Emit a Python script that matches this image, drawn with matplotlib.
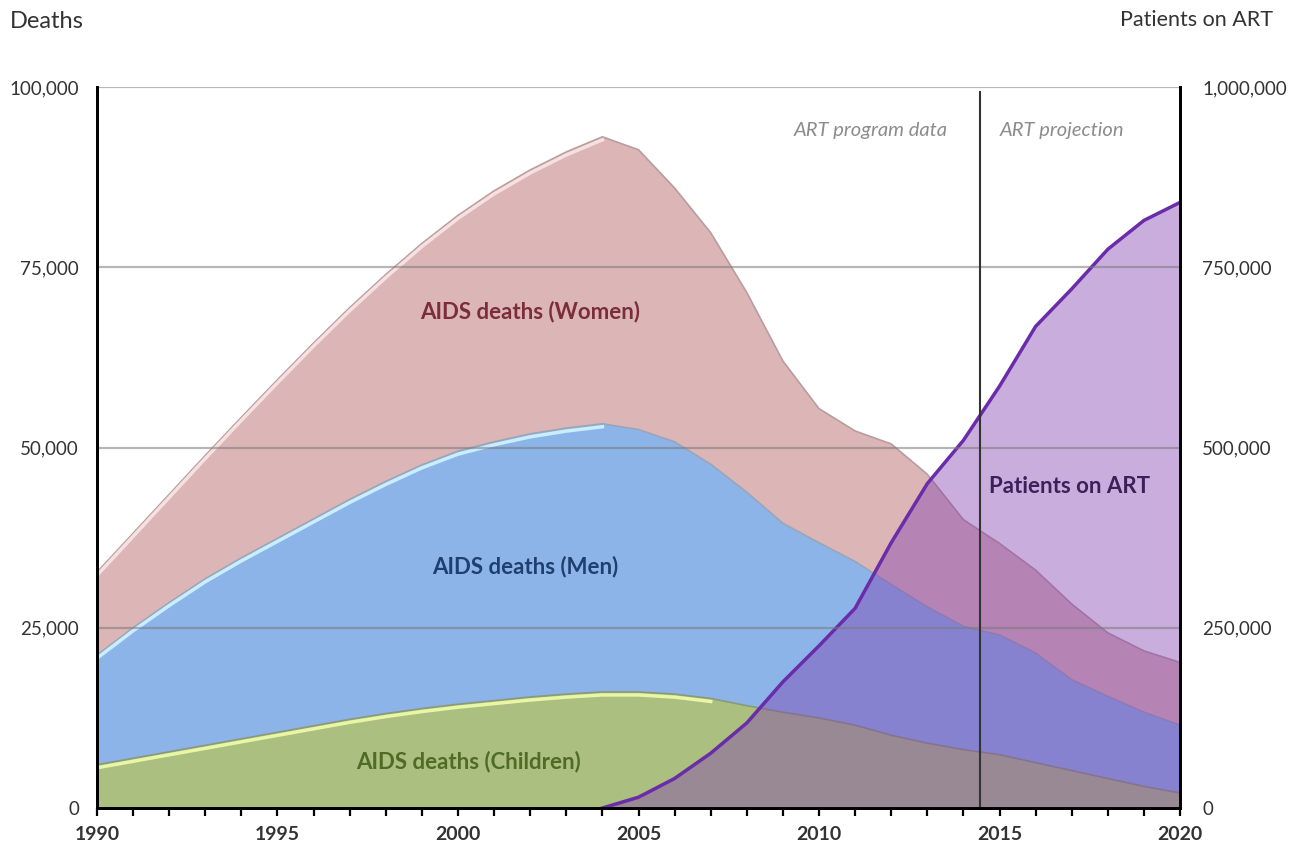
import numpy as np
import matplotlib.pyplot as plt
import matplotlib.transforms as mtransforms
from matplotlib.ticker import FuncFormatter, MultipleLocator

plt.rcParams['font.family'] = ['Lato', 'DejaVu Sans']

years = np.arange(1990, 2021)

# stacked totals (deaths)
children_top = [6000, 6900, 7800, 8700, 9600, 10500, 11400, 12300, 13100, 13800,
                14400, 14900, 15400, 15800, 16100, 16100, 15800, 15200, 14200, 13300,
                12500, 11500, 10100, 9000, 8100, 7400, 6300, 5200, 4100, 3000, 2100]
men_top = [21200, 25000, 28500, 31800, 34700, 37400, 40100, 42800, 45300, 47600,
           49500, 50800, 51900, 52700, 53300, 52500, 50800, 47700, 43800, 39500,
           36800, 34200, 31000, 27900, 25200, 24000, 21500, 17800, 15500, 13300, 11500]
women_top = [32700, 38100, 43500, 48900, 54200, 59400, 64500, 69400, 74000, 78300,
             82200, 85600, 88500, 91000, 93100, 91300, 86000, 79800, 71500, 62000,
             55400, 52300, 50500, 46300, 40000, 36700, 33000, 28300, 24300, 21800, 20200]

# patients on ART (right axis)
art = [0, 0, 0, 0, 0, 0, 0, 0, 0, 0,
       0, 0, 0, 0, 0, 15000, 41000, 76000, 118000, 175000,
       225000, 277000, 368000, 450000, 510000, 585000, 668000, 720000, 775000, 815000, 840000]

children = np.array(children_top)
men = np.array(men_top) - children
women = np.array(women_top) - np.array(men_top)

fig = plt.figure(figsize=(13.02, 8.47), dpi=100)
ax = fig.add_axes([0.0745, 0.046, 0.8318, 0.8512])
ax2 = ax.twinx()

c_women = '#dcb5b7'
c_men = '#8cb4e8'
c_child = '#abbf80'

ax.stackplot(years, children, men, women, colors=[c_child, c_men, c_women], lw=0)
ax.plot(years, children_top, color='#8a9a78', lw=1.2)
ax.plot(years, men_top, color='#9aa6b8', lw=1.2)
ax.plot(years, women_top, color='#b89c9e', lw=1.2)

# light bevel lines just under the rising edges
shift = mtransforms.offset_copy(ax.transData, fig=fig, x=0, y=-3, units='dots')
ax.plot(years[:15], women_top[:15], color='#f7e0e0', lw=2.5, transform=shift)
ax.plot(years[:15], men_top[:15], color='#c8eeff', lw=2.5, transform=shift)
ax.plot(years[:18], children_top[:18], color='#e8f6a6', lw=2.5, transform=shift)

ax.set_xlim(1990, 2020)
ax.set_ylim(0, 100000)
ax2.set_ylim(0, 1000000)

ax2.fill_between(years, 0, art, color='#7f3fb0', alpha=0.42, lw=0)
ax2.plot(years[14:], art[14:], color='#6a2ca8', lw=2.5)

for v in [250000, 500000, 750000, 1000000]:
    ax2.axhline(v, color='#7a7a7a', lw=1.6, alpha=0.55)
ax2.axvline(2014.45, color='#333333', lw=1.5, ymax=0.993)

ax2.text(2013.55, 940000, 'ART program data', ha='right', va='center',
         style='italic', fontsize=14.5, color='#8c8c8c')
ax2.text(2015.0, 940000, 'ART projection', ha='left', va='center',
         style='italic', fontsize=14.5, color='#8c8c8c')

ax2.text(2002.0, 689000, 'AIDS deaths (Women)', ha='center', va='center',
         fontsize=16, fontweight='bold', color='#7b2e3a')
ax2.text(2001.85, 335600, 'AIDS deaths (Men)', ha='center', va='center',
         fontsize=16, fontweight='bold', color='#1f3f6f')
ax2.text(2000.3, 65000, 'AIDS deaths (Children)', ha='center', va='center',
         fontsize=16, fontweight='bold', color='#4f6b25')
ax2.text(2016.95, 446600, 'Patients on ART', ha='center', va='center',
         fontsize=16, fontweight='bold', color='#3d1f5a')

fmt = FuncFormatter(lambda v, p: f'{int(v):,}')
ax.yaxis.set_major_locator(MultipleLocator(25000))
ax.yaxis.set_major_formatter(fmt)
ax2.yaxis.set_major_locator(MultipleLocator(250000))
ax2.yaxis.set_major_formatter(fmt)
ax.xaxis.set_major_locator(MultipleLocator(5))
ax.xaxis.set_minor_locator(MultipleLocator(1))

ax.tick_params(axis='y', length=0, pad=13, labelsize=13.5, labelcolor='#333333')
ax2.tick_params(axis='y', length=0, pad=16, labelsize=13.5, labelcolor='#333333')
ax.tick_params(axis='x', which='both', length=6, width=1.6, direction='out',
               pad=7, labelsize=14)
for lab in ax.get_xticklabels():
    lab.set_fontweight('bold')
    lab.set_color('#333333')

for a in (ax, ax2):
    a.spines['top'].set_visible(False)
    for s in ('left', 'right', 'bottom'):
        a.spines[s].set_linewidth(2)
        a.spines[s].set_color('black')

fig.text(10 / 1302, 1 - 22 / 847, 'Deaths', fontsize=17, color='#333333',
         ha='left', va='center')
fig.text(1273 / 1302, 1 - 20 / 847, 'Patients on ART', fontsize=15.5,
         color='#333333', ha='right', va='center')

fig.savefig('out.png', dpi=100)
